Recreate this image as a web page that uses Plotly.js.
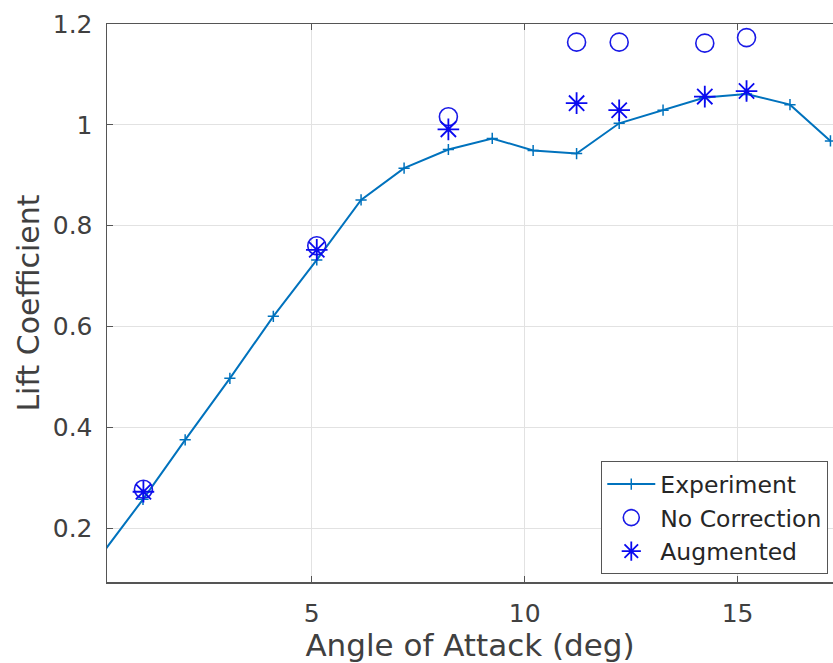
<!DOCTYPE html>
<html>
<head>
<meta charset="utf-8">
<script src="https://cdn.plot.ly/plotly-3.0.1.min.js"></script>
<style>html,body{margin:0;padding:0;background:#fff;}#chart{width:833px;height:663px;}</style>
</head>
<body>
<div id="chart"></div>
<script>
// Experiment
var expAngle = [0.0, 1.04, 2.03, 3.08, 4.10, 5.12, 6.16, 7.17, 8.21, 9.24, 10.20, 11.22, 12.22, 13.25, 14.23, 15.21, 16.23, 17.18];
var expCl    = [0.140, 0.257, 0.375, 0.497, 0.620, 0.732, 0.851, 0.914, 0.951, 0.973, 0.949, 0.943, 1.003, 1.029, 1.054, 1.061, 1.040, 0.968];
// No Correction
var ncAngle = [1.05, 5.12, 8.21, 11.22, 12.22, 14.23, 15.21];
var ncCl    = [0.277, 0.760, 1.016, 1.164, 1.164, 1.162, 1.173];
// Augmented
var augAngle = [1.05, 5.12, 8.21, 11.22, 12.22, 14.23, 15.21];
var augCl    = [0.272, 0.752, 0.991, 1.043, 1.029, 1.056, 1.067];

var xTicks = [5, 10, 15];
var yTicks = [0.2, 0.4, 0.6, 0.8, 1.0, 1.2];
var yTickText = ['0.2', '0.4', '0.6', '0.8', '1', '1.2'];

var FONT = 'DejaVu Sans, Lucida Grande, sans-serif';
var TXT = '#404040';

var traces = [
  {x: expAngle, y: expCl, name: 'Experiment', type: 'scatter', mode: 'lines+markers',
   line: {color: '#0072BD', width: 2},
   marker: {symbol: 'cross-thin-open', size: 8, color: '#0072BD', line: {color: '#0072BD', width: 1.5}}},
  {x: ncAngle, y: ncCl, name: 'No Correction', type: 'scatter', mode: 'markers',
   marker: {symbol: 'circle-open', size: 18, color: '#1a1ae6', line: {color: '#1a1ae6', width: 1.6}}},
  {x: augAngle, y: augCl, name: 'Augmented', type: 'scatter', mode: 'markers',
   marker: {symbol: 'asterisk-open', size: 18, color: '#0a0af0', line: {color: '#0a0af0', width: 1.8}}}
];

var layout = {
  width: 833, height: 663,
  margin: {l: 107, r: 0, t: 24, b: 81, pad: 0},
  paper_bgcolor: '#fff', plot_bgcolor: '#fff',
  font: {family: FONT, color: TXT, size: 25},
  showlegend: true,
  legend: {x: 0.9935, y: 0.0138, xanchor: 'right', yanchor: 'bottom',
           bgcolor: '#fff', bordercolor: '#555', borderwidth: 1,
           font: {family: FONT, size: 23.5, color: '#262626'}, itemwidth: 48,
           tracegroupgap: 0},
  xaxis: {range: [0.195, 17.24], tickvals: xTicks, ticktext: xTicks.map(String),
          showgrid: true, gridcolor: '#e2e2e2', gridwidth: 1, zeroline: false,
          showline: true, linecolor: '#555', linewidth: 1.5, mirror: 'ticks',
          ticks: 'inside', ticklen: 6, tickcolor: '#555', tickwidth: 1,
          ticklabelstandoff: 8,
          tickfont: {family: FONT, size: 25, color: TXT},
          title: {text: 'Angle of Attack (deg)', font: {family: FONT, size: 31, color: TXT}, standoff: 5}},
  yaxis: {range: [0.093, 1.2], tickvals: yTicks, ticktext: yTickText,
          showgrid: true, gridcolor: '#e2e2e2', gridwidth: 1, zeroline: false,
          showline: true, linecolor: '#555', linewidth: 1.5, mirror: false,
          ticks: 'inside', ticklen: 6, tickcolor: '#555', tickwidth: 1,
          ticklabelstandoff: 8,
          tickfont: {family: FONT, size: 25, color: TXT},
          title: {text: 'Lift Coefficient', font: {family: FONT, size: 30, color: TXT}, standoff: 4}}
};

Plotly.newPlot('chart', traces, layout, {displayModeBar: false, staticPlot: true});
</script>
</body>
</html>
